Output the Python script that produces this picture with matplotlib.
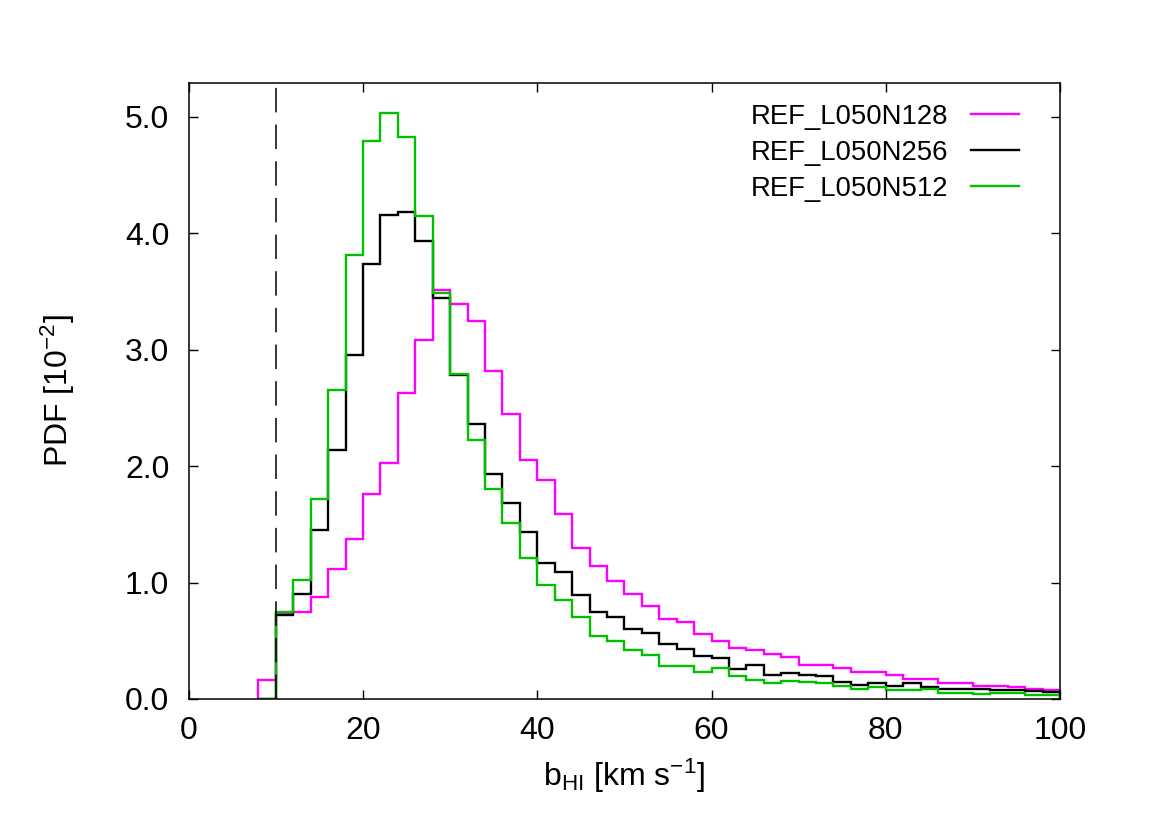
import numpy as np
import matplotlib
matplotlib.use('Agg')
import matplotlib.pyplot as plt

plt.rcParams['font.family'] = ['Liberation Sans', 'DejaVu Sans']
plt.rcParams['mathtext.fontset'] = 'custom'
plt.rcParams['mathtext.rm'] = 'Liberation Sans'
plt.rcParams['mathtext.it'] = 'Liberation Sans:italic'

# Bin edges of b_HI [km/s], 2 km/s wide from 8 to 100
bin_edges = np.arange(8, 101, 2)

# PDF values [10^-2] for each bin
pdf_n128 = [0.16, 0.74, 0.75, 0.88, 1.12, 1.37, 1.76, 2.03, 2.63, 3.08,
            3.51, 3.39, 3.25, 2.82, 2.45, 2.05, 1.88, 1.59, 1.30, 1.14,
            1.01, 0.90, 0.80, 0.69, 0.66, 0.56, 0.50, 0.44, 0.42, 0.39,
            0.36, 0.29, 0.29, 0.27, 0.23, 0.23, 0.21, 0.175, 0.175, 0.14,
            0.135, 0.115, 0.115, 0.105, 0.09, 0.077]
pdf_n256 = [0.0, 0.72, 0.90, 1.45, 2.14, 2.95, 3.74, 4.16, 4.18, 3.93,
            3.44, 2.78, 2.36, 1.93, 1.68, 1.43, 1.17, 1.09, 0.89, 0.745,
            0.70, 0.60, 0.57, 0.47, 0.43, 0.37, 0.35, 0.26, 0.29, 0.21,
            0.22, 0.21, 0.20, 0.15, 0.12, 0.14, 0.11, 0.135, 0.10, 0.09,
            0.086, 0.09, 0.077, 0.077, 0.07, 0.063]
pdf_n512 = [0.0, 0.75, 1.02, 1.72, 2.65, 3.81, 4.79, 5.03, 4.83, 4.15,
            3.49, 2.79, 2.22, 1.80, 1.51, 1.21, 0.98, 0.85, 0.70, 0.54,
            0.50, 0.42, 0.38, 0.28, 0.28, 0.23, 0.27, 0.20, 0.16, 0.14,
            0.155, 0.15, 0.14, 0.11, 0.09, 0.10, 0.077, 0.077, 0.083, 0.05,
            0.055, 0.043, 0.05, 0.055, 0.03, 0.037]

labels = ['REF_L050N128', 'REF_L050N256', 'REF_L050N512']
colors = ['#ff00ff', '#000000', '#00c000']
b_min = 10  # dashed vertical line

fig = plt.figure(figsize=(11.7, 8.27), dpi=100)
ax = fig.add_axes([0.1613, 0.1548, 0.7447, 0.7448])

for vals, lab, col in zip([pdf_n128, pdf_n256, pdf_n512], labels, colors):
    ax.stairs(vals, bin_edges, color=col, lw=1.7, label=lab, baseline=0)

ax.axvline(b_min, color='black', lw=1.1, dashes=(16, 8))

ax.set_xlim(0, 100)
ax.set_ylim(0, 5.29)
ax.set_xticks([0, 20, 40, 60, 80, 100])
ax.set_yticks([0, 1, 2, 3, 4, 5])
ax.set_yticklabels(['0.0', '1.0', '2.0', '3.0', '4.0', '5.0'])
ax.tick_params(direction='in', length=6.5, width=1, labelsize=23,
               top=True, right=True)
ax.tick_params(axis='x', pad=12)
ax.tick_params(axis='y', pad=14)
for s in ax.spines.values():
    s.set_linewidth(1.1)

ax.set_xlabel(r'b$_{\rm HI}$ [km s$^{-1}$]', fontsize=23, labelpad=8)
ax.set_ylabel(r'PDF [10$^{-2}$]', fontsize=23)
ax.yaxis.set_label_coords(-0.128, 0.5)

ax.legend(loc='upper right', bbox_to_anchor=(0.966, 0.984), borderaxespad=0,
          frameon=False, fontsize=19.8, markerfirst=False,
          handlelength=1.75, labelspacing=0.36, handletextpad=0.85)

plt.savefig('out.png', dpi=100)
